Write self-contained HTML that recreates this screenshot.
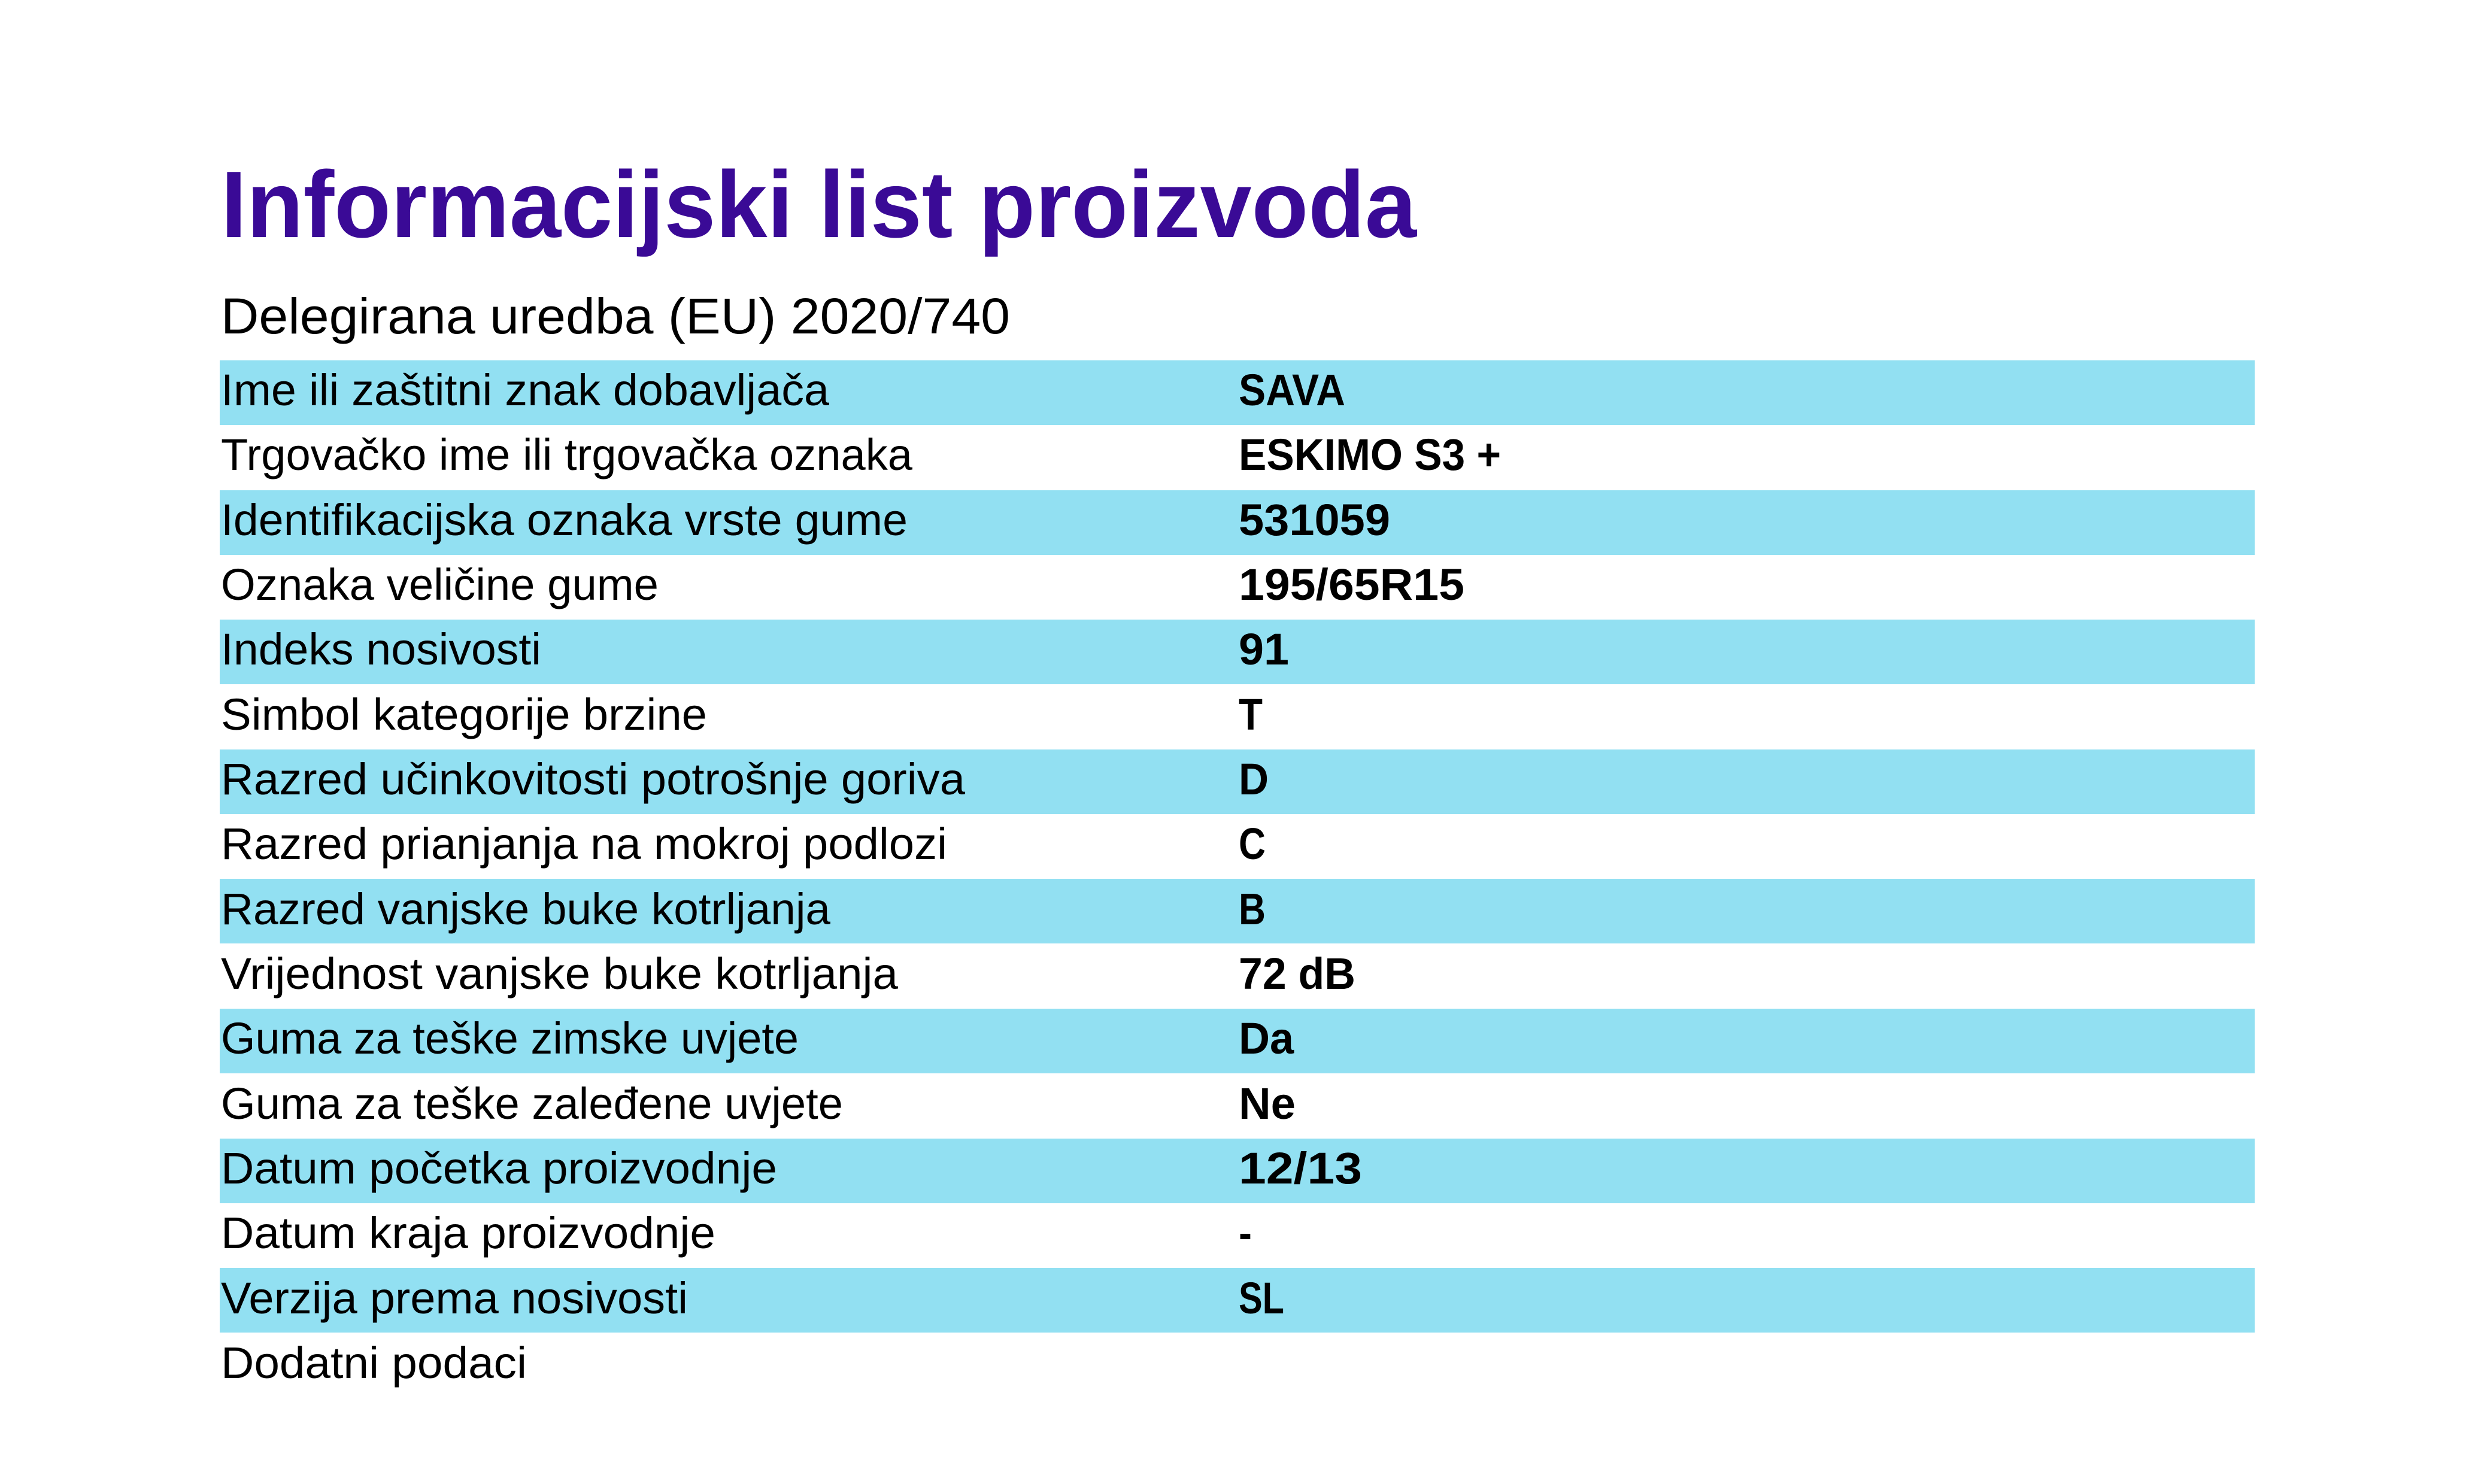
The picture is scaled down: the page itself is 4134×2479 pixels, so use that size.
<!DOCTYPE html>
<html><head><meta charset="utf-8"><style>
html,body{margin:0;padding:0;background:#fff;}
svg{display:block;}
text{font-family:"Liberation Sans",sans-serif;}
</style></head><body>
<svg width="4134" height="2479" viewBox="0 0 4134 2479" xmlns="http://www.w3.org/2000/svg">
<rect width="4134" height="2479" fill="#fff"/>
<text x="369" y="396" font-size="158" font-weight="bold" fill="#3a0a96" textLength="1997" lengthAdjust="spacingAndGlyphs">Informacijski list proizvoda</text>
<text x="369" y="557" font-size="84" fill="#000" textLength="1318" lengthAdjust="spacingAndGlyphs">Delegirana uredba (EU) 2020/740</text>
<g fill="#92e0f2">
<rect x="367" y="602" width="3399" height="108"/>
<rect x="367" y="819" width="3399" height="108"/>
<rect x="367" y="1035" width="3399" height="108"/>
<rect x="367" y="1252" width="3399" height="108"/>
<rect x="367" y="1468" width="3399" height="108"/>
<rect x="367" y="1685" width="3399" height="108"/>
<rect x="367" y="1902" width="3399" height="108"/>
<rect x="367" y="2118" width="3399" height="108"/>
</g>
<g font-size="74" fill="#000">
<text x="369" y="677" textLength="1016" lengthAdjust="spacingAndGlyphs">Ime ili zaštitni znak dobavljača</text>
<text x="369" y="785" textLength="1155" lengthAdjust="spacingAndGlyphs">Trgovačko ime ili trgovačka oznaka</text>
<text x="369" y="894" textLength="1147" lengthAdjust="spacingAndGlyphs">Identifikacijska oznaka vrste gume</text>
<text x="369" y="1002" textLength="731" lengthAdjust="spacingAndGlyphs">Oznaka veličine gume</text>
<text x="369" y="1110" textLength="535" lengthAdjust="spacingAndGlyphs">Indeks nosivosti</text>
<text x="369" y="1219" textLength="812" lengthAdjust="spacingAndGlyphs">Simbol kategorije brzine</text>
<text x="369" y="1327" textLength="1243" lengthAdjust="spacingAndGlyphs">Razred učinkovitosti potrošnje goriva</text>
<text x="369" y="1435" textLength="1213" lengthAdjust="spacingAndGlyphs">Razred prianjanja na mokroj podlozi</text>
<text x="369" y="1544" textLength="1018" lengthAdjust="spacingAndGlyphs">Razred vanjske buke kotrljanja</text>
<text x="369" y="1652" textLength="1131" lengthAdjust="spacingAndGlyphs">Vrijednost vanjske buke kotrljanja</text>
<text x="369" y="1760" textLength="965" lengthAdjust="spacingAndGlyphs">Guma za teške zimske uvjete</text>
<text x="369" y="1869" textLength="1039" lengthAdjust="spacingAndGlyphs">Guma za teške zaleđene uvjete</text>
<text x="369" y="1977" textLength="929" lengthAdjust="spacingAndGlyphs">Datum početka proizvodnje</text>
<text x="369" y="2085" textLength="826" lengthAdjust="spacingAndGlyphs">Datum kraja proizvodnje</text>
<text x="369" y="2194" textLength="780" lengthAdjust="spacingAndGlyphs">Verzija prema nosivosti</text>
<text x="369" y="2302" textLength="511" lengthAdjust="spacingAndGlyphs">Dodatni podaci</text>
</g>
<g font-size="74" font-weight="bold" fill="#000">
<text x="2069" y="677" textLength="178" lengthAdjust="spacingAndGlyphs">SAVA</text>
<text x="2069" y="785" textLength="438" lengthAdjust="spacingAndGlyphs">ESKIMO S3 +</text>
<text x="2069" y="894" textLength="253" lengthAdjust="spacingAndGlyphs">531059</text>
<text x="2069" y="1002" textLength="377" lengthAdjust="spacingAndGlyphs">195/65R15</text>
<text x="2069" y="1110" textLength="84" lengthAdjust="spacingAndGlyphs">91</text>
<text x="2069" y="1219" textLength="40" lengthAdjust="spacingAndGlyphs">T</text>
<text x="2069" y="1327" textLength="50" lengthAdjust="spacingAndGlyphs">D</text>
<text x="2069" y="1435" textLength="45" lengthAdjust="spacingAndGlyphs">C</text>
<text x="2069" y="1544" textLength="45" lengthAdjust="spacingAndGlyphs">B</text>
<text x="2069" y="1652" textLength="195" lengthAdjust="spacingAndGlyphs">72 dB</text>
<text x="2069" y="1760" textLength="92" lengthAdjust="spacingAndGlyphs">Da</text>
<text x="2069" y="1869" textLength="95" lengthAdjust="spacingAndGlyphs">Ne</text>
<text x="2069" y="1977" textLength="206" lengthAdjust="spacingAndGlyphs">12/13</text>
<text x="2069" y="2085" textLength="22" lengthAdjust="spacingAndGlyphs">-</text>
<text x="2069" y="2194" textLength="76" lengthAdjust="spacingAndGlyphs">SL</text>
</g>
</svg>
</body></html>
